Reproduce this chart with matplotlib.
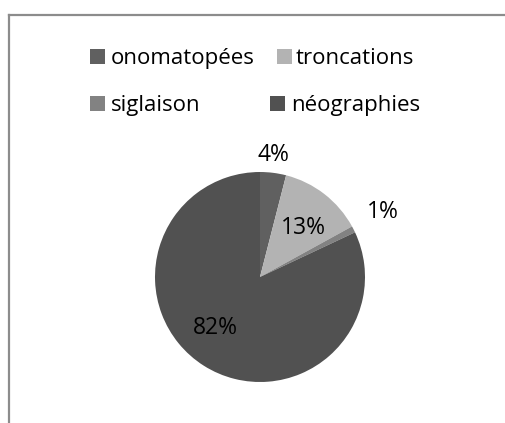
import matplotlib
matplotlib.use('Agg')
import matplotlib.pyplot as plt
import matplotlib.patches as mpatches
from matplotlib.lines import Line2D

plt.rcParams['font.family'] = ['Open Sans', 'DejaVu Sans']

categories = ['onomatopées', 'troncations', 'siglaison', 'néographies']
values = [4, 13, 1, 82]
colors = ['#606060', '#b3b3b3', '#828282', '#515151']

W, H = 506, 423
fig = plt.figure(figsize=(W / 100, H / 100), dpi=100)

# pie axes: center (260, 277), radius ~105 px
r = 105
cx, cy = 260, 277
ax = fig.add_axes([(cx - r) / W, 1 - (cy + r) / H, 2 * r / W, 2 * r / H])
wedges, _ = ax.pie(values, colors=colors, startangle=90, counterclock=False,
                   wedgeprops=dict(linewidth=0))
ax.set_xlim(-1, 1)
ax.set_ylim(-1, 1)
ax.set_aspect('auto')

# data labels (pixel positions from the chart)
label_pos = [(273, 155), (303, 228), (383, 212), (215, 328)]
for (x, y), v in zip(label_pos, values):
    fig.text(x / W, 1 - y / H, f'{v}%', ha='center', va='center', fontsize=16.5, color='black')

# legend, two rows: (square x, text x, baseline y)
leg_pos = [(90, 111, 64), (277, 296, 64), (90, 111, 111), (270, 291, 111)]
for (sx, tx, y), name, c in zip(leg_pos, categories, colors):
    fig.patches.append(mpatches.Rectangle((sx / W, 1 - y / H), 15 / W, 15 / H,
                                          transform=fig.transFigure, facecolor=c,
                                          edgecolor='none'))
    fig.text(tx / W, 1 - y / H, name, ha='left', va='baseline', fontsize=16, color='black')

# chart frame (top and left edges visible)
fig.add_artist(Line2D([9 / W, 1], [1 - 15 / H, 1 - 15 / H], color='#8c8c8c', lw=1.6))
fig.add_artist(Line2D([9 / W, 9 / W], [0, 1 - 15 / H], color='#8c8c8c', lw=1.6))

fig.savefig('out.png', dpi=100)
plt.close()
